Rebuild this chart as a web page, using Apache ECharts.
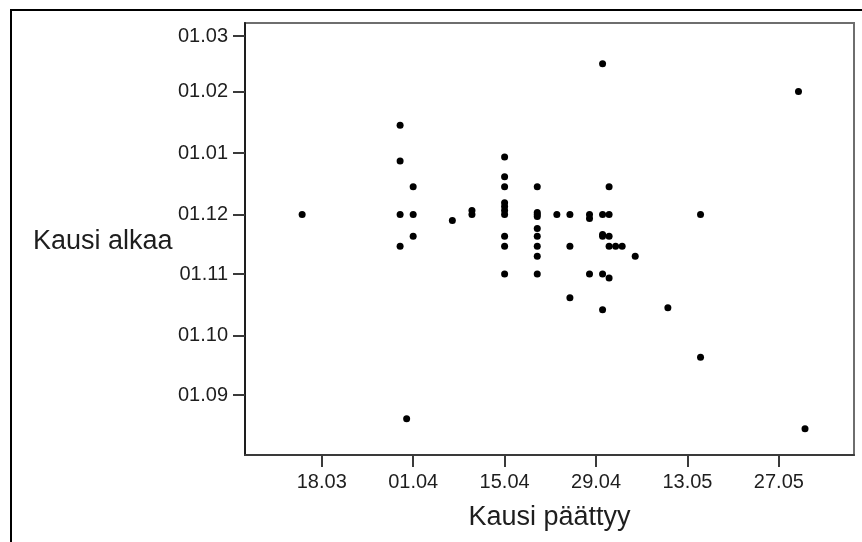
<!DOCTYPE html>
<html>
<head>
<meta charset="utf-8">
<script src="https://cdn.jsdelivr.net/npm/echarts@6/dist/echarts.min.js"></script>
<style>
  html, body { margin: 0; padding: 0; background: #ffffff; }
  #chart { width: 862px; height: 542px; }
</style>
</head>
<body>
<div id="chart"></div>
<script>
// ---- Data (dates as dd.mm) ----
const xTickLabels = ['18.03', '01.04', '15.04', '29.04', '13.05', '27.05'];
const yTickLabels = ['01.09', '01.10', '01.11', '01.12', '01.01', '01.02', '01.03'];
const xAxisTitle = 'Kausi päättyy';
const yAxisTitle = 'Kausi alkaa';

// Season end (x)
const kausiPaattyy = [
  '15.03', '30.03', '30.03', '30.03', '30.03', '01.04', '01.04', '01.04', '07.04', '10.04',
  '10.04', '15.04', '15.04', '15.04', '15.04', '15.04', '15.04', '15.04', '15.04', '15.04',
  '15.04', '20.04', '20.04', '20.04', '20.04', '20.04', '20.04', '20.04', '20.04', '20.04',
  '23.04', '25.04', '25.04', '25.04', '28.04', '28.04', '28.04', '30.04', '30.04', '30.04',
  '30.04', '30.04', '30.04', '01.05', '01.05', '01.05', '01.05', '01.05', '02.05', '03.05',
  '05.05', '10.05', '15.05', '15.05', '30.05', '31.05', '31.03'
];
// Season start (y)
const kausiAlkaa = [
  '01.12', '15.01', '28.12', '01.12', '15.11', '15.12', '01.12', '20.11', '28.11', '03.12',
  '01.12', '30.12', '20.12', '15.12', '07.12', '05.12', '03.12', '01.12', '20.11', '15.11',
  '01.11', '15.12', '02.12', '01.12', '30.11', '24.11', '20.11', '15.11', '10.11', '01.11',
  '01.12', '01.12', '15.11', '20.10', '01.12', '29.11', '01.11', '01.12', '21.11', '20.11',
  '01.11', '14.10', '15.02', '15.12', '01.12', '20.11', '15.11', '30.10', '15.11', '15.11',
  '10.11', '15.10', '01.12', '20.09', '01.02', '15.08', '20.08'
];

// ---- Date helpers ----
const DAY = 86400000;
function parseDM(s) { const p = s.split('.'); return { d: +p[0], m: +p[1] }; }
// end date -> day of year (non-leap year)
function endDay(s) {
  const { d, m } = parseDM(s);
  return (Date.UTC(2001, m - 1, d) - Date.UTC(2001, 0, 1)) / DAY + 1;
}
// start date -> days since 01.09 (autumn in first year, Jan-Mar in next year)
function startDay(s) {
  const { d, m } = parseDM(s);
  const yr = m >= 7 ? 2000 : 2001;
  return (Date.UTC(yr, m - 1, d) - Date.UTC(2000, 8, 1)) / DAY;
}

const points = kausiPaattyy.map((x, i) => [endDay(x), startDay(kausiAlkaa[i])]);
const xTickVals = xTickLabels.map(endDay);
const yTickVals = yTickLabels.map(startDay);
const xLabelMap = {}; xTickVals.forEach((v, i) => xLabelMap[v] = xTickLabels[i]);
const yLabelMap = {}; yTickVals.forEach((v, i) => yLabelMap[v] = yTickLabels[i]);

const FONT = '"Liberation Sans", Arial, sans-serif';
const TXT = '#1e1e1e';

const chart = echarts.init(document.getElementById('chart'), null, { renderer: 'canvas' });
chart.setOption({
  animation: false,
  backgroundColor: '#ffffff',
  grid: {
    left: 245, top: 23, width: 609, height: 432,
    show: true, borderColor: '#6e6e6e', borderWidth: 2, backgroundColor: '#ffffff'
  },
  xAxis: {
    type: 'value',
    min: 65.25, max: 158.5,
    splitLine: { show: false },
    axisLine: { show: true, onZero: false, lineStyle: { color: '#3a3a3a', width: 2 } },
    axisTick: { show: true, length: 12, lineStyle: { color: '#3a3a3a', width: 2 }, customValues: xTickVals },
    axisLabel: {
      customValues: xTickVals, margin: 17,
      formatter: v => xLabelMap[v] || '',
      fontFamily: FONT, fontSize: 20, color: TXT
    },
    name: xAxisTitle, nameLocation: 'middle', nameGap: 49,
    nameTextStyle: { fontFamily: FONT, fontSize: 27, color: TXT }
  },
  yAxis: {
    type: 'value',
    min: -30.26, max: 187.6,
    splitLine: { show: false },
    axisLine: { show: true, onZero: false, lineStyle: { color: '#1e1e1e', width: 2 } },
    axisTick: { show: true, length: 12, lineStyle: { color: '#3a3a3a', width: 2 }, customValues: yTickVals },
    axisLabel: {
      customValues: yTickVals, margin: 17,
      formatter: v => yLabelMap[v] || '',
      fontFamily: FONT, fontSize: 20, color: TXT
    }
  },
  graphic: [
    {
      type: 'rect', silent: true, z: -10,
      shape: { x: 11, y: 10, width: 1000, height: 800 },
      style: { fill: 'none', stroke: '#000000', lineWidth: 2 }
    },
    {
      type: 'text', left: 33, top: 228,
      style: { text: yAxisTitle, font: '27px "Liberation Sans", Arial, sans-serif', fill: TXT }
    }
  ],
  series: [{
    type: 'scatter',
    data: points,
    symbol: 'circle',
    symbolSize: 7,
    itemStyle: { color: '#000000', opacity: 1 }
  }]
});
</script>
</body>
</html>
